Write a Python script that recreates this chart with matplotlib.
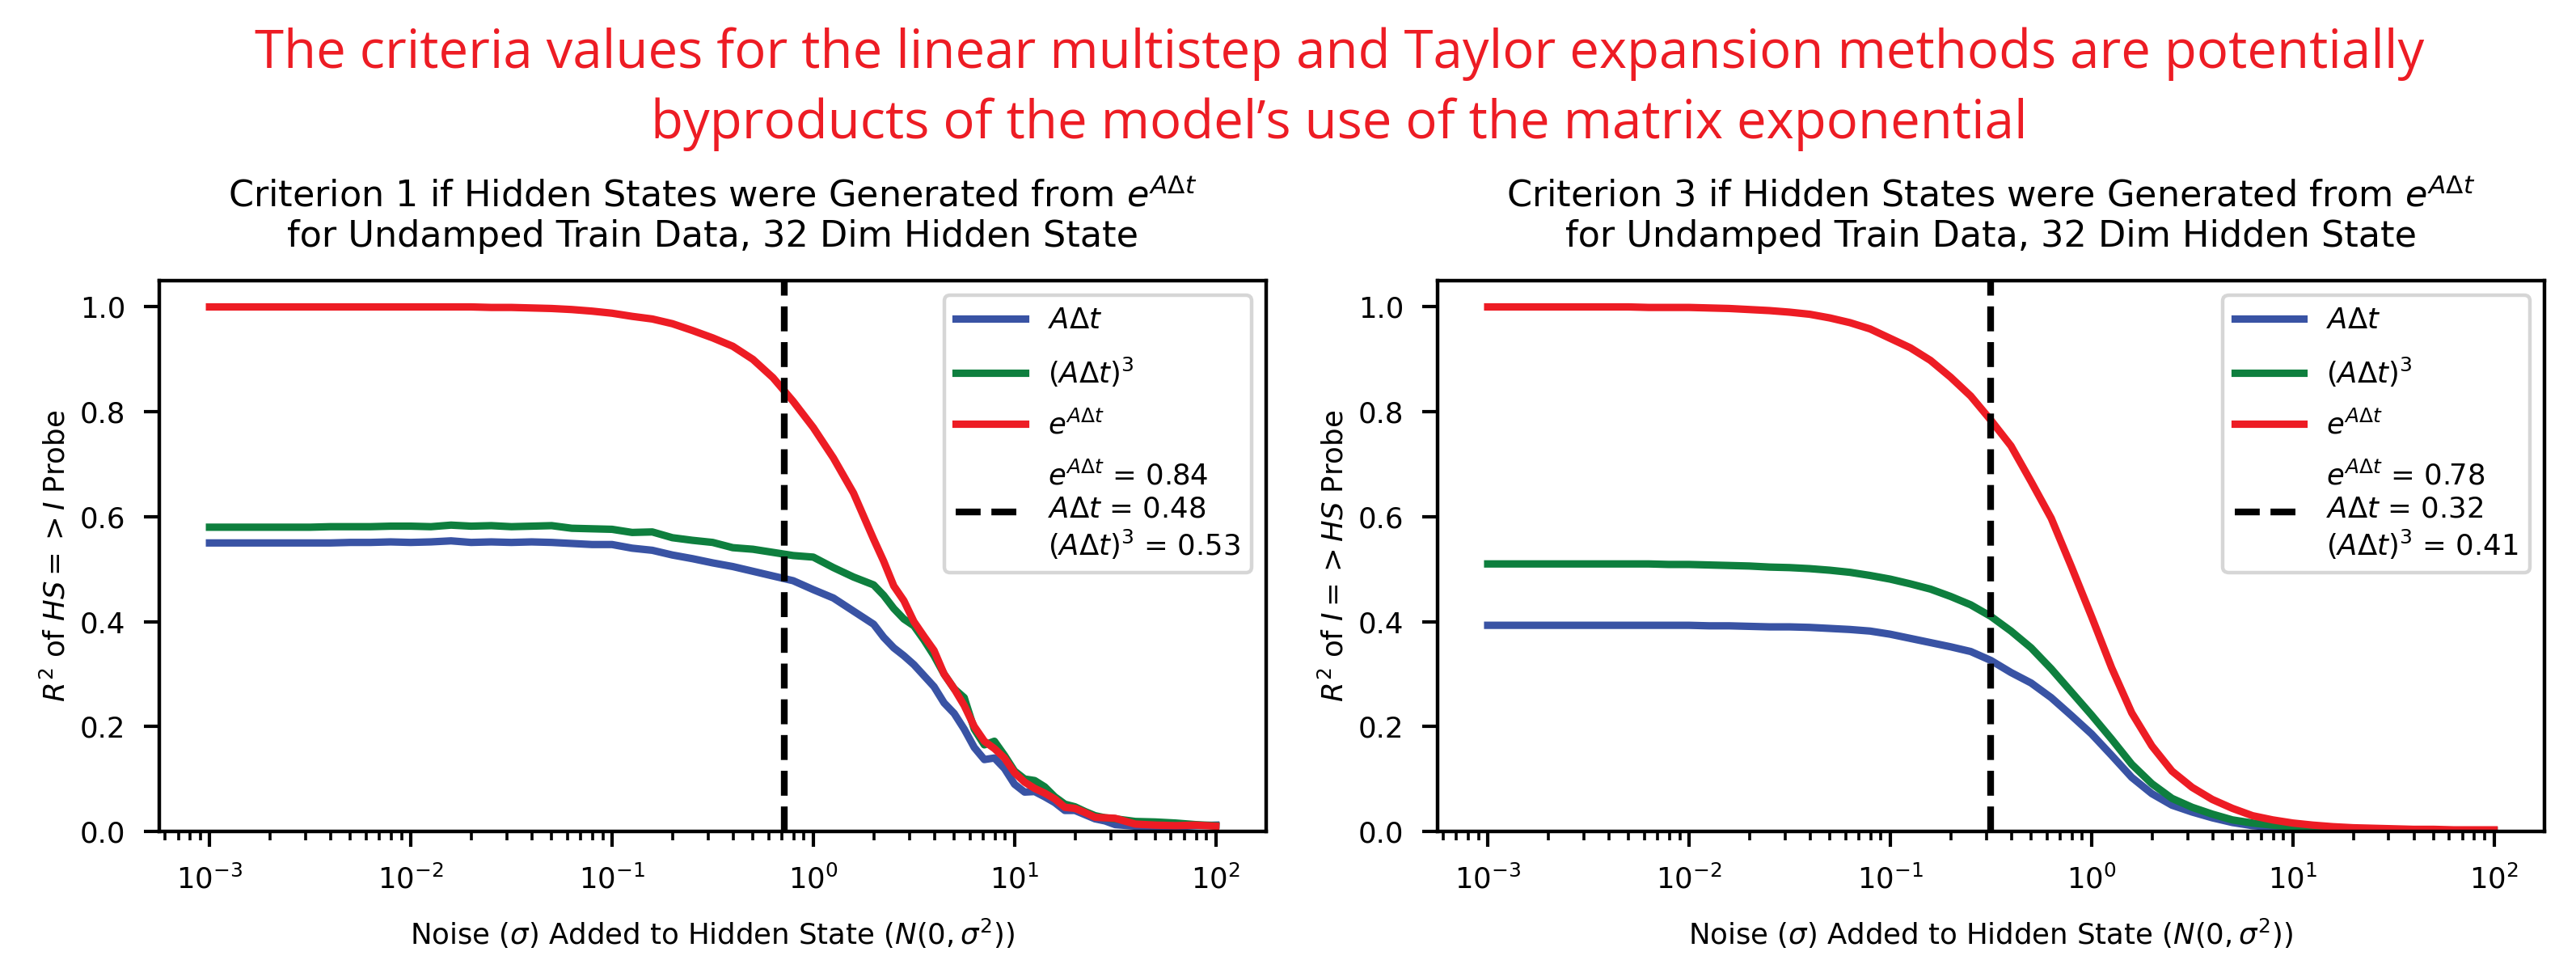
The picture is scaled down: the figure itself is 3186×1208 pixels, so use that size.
import numpy as np
import matplotlib
matplotlib.use("Agg")
import matplotlib.pyplot as plt

# log10 of noise sigma
logsig_left = [-3.0, -2.9, -2.8, -2.7, -2.6, -2.5, -2.4, -2.3, -2.2, -2.1,
               -2.0, -1.9, -1.8, -1.7, -1.6, -1.5, -1.4, -1.3, -1.2, -1.1,
               -1.0, -0.9, -0.8, -0.7, -0.6, -0.5, -0.4, -0.3, -0.2, -0.1,
               0.0, 0.1, 0.2, 0.3, 0.35, 0.4, 0.45, 0.5, 0.55, 0.6,
               0.65, 0.7, 0.75, 0.8, 0.85, 0.9, 0.95, 1.0, 1.05, 1.1,
               1.15, 1.2, 1.25, 1.3, 1.35, 1.4, 1.45, 1.5, 1.6, 1.7,
               1.8, 1.9, 2.0]
# criterion 1 (HS => I probe)
c1_exp = [1.000, 1.000, 1.000, 1.000, 1.000, 1.000, 1.000, 1.000, 1.000, 1.000,
          1.000, 1.000, 1.000, 1.000, 0.999, 0.999, 0.998, 0.997, 0.995, 0.992,
          0.988, 0.982, 0.977, 0.968, 0.955, 0.941, 0.925, 0.900, 0.865, 0.820,
          0.770, 0.712, 0.645, 0.557, 0.515, 0.468, 0.440, 0.400, 0.372, 0.345,
          0.300, 0.272, 0.240, 0.200, 0.172, 0.158, 0.140, 0.112, 0.094, 0.082,
          0.073, 0.062, 0.046, 0.044, 0.036, 0.027, 0.026, 0.025, 0.014, 0.012,
          0.011, 0.012, 0.010]
c1_cube = [0.580, 0.580, 0.580, 0.580, 0.580, 0.580, 0.581, 0.581, 0.581, 0.582,
           0.582, 0.581, 0.584, 0.582, 0.583, 0.581, 0.582, 0.583, 0.578, 0.577,
           0.576, 0.570, 0.571, 0.560, 0.555, 0.551, 0.541, 0.538, 0.532, 0.526,
           0.523, 0.503, 0.485, 0.470, 0.450, 0.425, 0.405, 0.392, 0.365, 0.335,
           0.300, 0.272, 0.255, 0.195, 0.165, 0.172, 0.145, 0.115, 0.100, 0.097,
           0.085, 0.066, 0.052, 0.047, 0.038, 0.030, 0.026, 0.024, 0.019, 0.018,
           0.016, 0.013, 0.011]
c1_lin = [0.550, 0.550, 0.550, 0.550, 0.550, 0.550, 0.550, 0.551, 0.551, 0.552,
          0.551, 0.552, 0.554, 0.551, 0.552, 0.551, 0.552, 0.551, 0.549, 0.547,
          0.547, 0.540, 0.536, 0.527, 0.520, 0.512, 0.505, 0.496, 0.487, 0.478,
          0.461, 0.445, 0.420, 0.395, 0.370, 0.350, 0.335, 0.318, 0.297, 0.276,
          0.245, 0.225, 0.195, 0.160, 0.137, 0.140, 0.120, 0.090, 0.075, 0.076,
          0.066, 0.055, 0.040, 0.040, 0.032, 0.024, 0.020, 0.013, 0.010, 0.010,
          0.009, 0.011, 0.012]

logsig_right = [-3.0, -2.9, -2.8, -2.7, -2.6, -2.5, -2.4, -2.3, -2.2, -2.1,
                -2.0, -1.9, -1.8, -1.7, -1.6, -1.5, -1.4, -1.3, -1.2, -1.1,
                -1.0, -0.9, -0.8, -0.7, -0.6, -0.5, -0.4, -0.3, -0.2, -0.1,
                0.0, 0.1, 0.2, 0.3, 0.4, 0.5, 0.6, 0.7, 0.8, 0.9,
                1.0, 1.1, 1.2, 1.3, 1.4, 1.5, 1.6, 1.7, 1.8, 1.9, 2.0]
# criterion 3 (I => HS probe)
c3_exp = [1.000, 1.000, 1.000, 1.000, 1.000, 1.000, 1.000, 1.000, 0.999, 0.999,
          0.999, 0.998, 0.997, 0.995, 0.993, 0.990, 0.986, 0.979, 0.970, 0.958,
          0.940, 0.922, 0.898, 0.866, 0.830, 0.784, 0.735, 0.667, 0.597, 0.505,
          0.410, 0.312, 0.226, 0.163, 0.115, 0.084, 0.061, 0.044, 0.030, 0.022,
          0.016, 0.012, 0.009, 0.007, 0.006, 0.005, 0.004, 0.004, 0.003, 0.003, 0.003]
c3_cube = [0.510, 0.510, 0.510, 0.510, 0.510, 0.510, 0.510, 0.510, 0.510, 0.509,
           0.509, 0.508, 0.507, 0.506, 0.504, 0.503, 0.501, 0.498, 0.494, 0.488,
           0.481, 0.472, 0.462, 0.448, 0.432, 0.410, 0.382, 0.350, 0.310, 0.266,
           0.222, 0.176, 0.128, 0.091, 0.063, 0.046, 0.033, 0.022, 0.016, 0.012,
           0.009, 0.006, 0.005, 0.004, 0.003, 0.003, 0.002, 0.002, 0.002, 0.002, 0.002]
c3_lin = [0.393, 0.393, 0.393, 0.393, 0.393, 0.393, 0.393, 0.393, 0.393, 0.393,
          0.393, 0.392, 0.392, 0.391, 0.390, 0.390, 0.389, 0.387, 0.385, 0.382,
          0.376, 0.368, 0.360, 0.352, 0.343, 0.326, 0.303, 0.283, 0.255, 0.221,
          0.186, 0.145, 0.103, 0.072, 0.050, 0.037, 0.026, 0.017, 0.011, 0.008,
          0.006, 0.004, 0.003, 0.003, 0.002, 0.002, 0.002, 0.002, 0.002, 0.002, 0.002]

crit_sigma = [0.72, 0.316]
leg_vals = [(0.84, 0.48, 0.53), (0.78, 0.32, 0.41)]
crit_num = [1, 3]
ylabels = [r"$R^2$ of $HS => I$ Probe", r"$R^2$ of $I => HS$ Probe"]

BLUE = "#3953A4"
GREEN = "#0E7F3E"
RED = "#ED1C24"

plt.rcParams['font.family'] = ['DejaVu Sans']
fig = plt.figure(figsize=(15.93, 6.04), dpi=200)

fig.text(0.52, 0.909,
         "The criteria values for the linear multistep and Taylor expansion methods are potentially\n"
         "byproducts of the model\u2019s use of the matrix exponential",
         ha='center', va='center', color=RED, fontsize=23.5, family='Open Sans',
         linespacing=1.4)

panels = [
    (logsig_left, c1_lin, c1_cube, c1_exp),
    (logsig_right, c3_lin, c3_cube, c3_exp),
]
lefts = [0.0618, 0.5580]

for i in range(2):
    ax = fig.add_axes([lefts[i], 0.149, 0.4297, 0.5637])
    lg, lin, cube, ex = panels[i]
    sig = 10.0 ** np.array(lg)
    ax.plot(sig, lin, color=BLUE, lw=3.3, label=r"$A\Delta t$")
    ax.plot(sig, cube, color=GREEN, lw=3.3, label=r"$(A\Delta t)^3$")
    ax.plot(sig, ex, color=RED, lw=3.3, label=r"$e^{A\Delta t}$")
    v = leg_vals[i]
    lab = (r"$e^{A\Delta t}$ = %.2f" % v[0] + "\n" +
           r"$A\Delta t$ = %.2f" % v[1] + "\n" +
           r"$(A\Delta t)^3$ = %.2f" % v[2])
    ax.axvline(crit_sigma[i], color='black', ls='--', lw=3, label=lab)
    ax.set_xscale('log')
    ax.set_ylim(0, 1.05)
    ax.set_xlim(10 ** -3.25, 10 ** 2.25)
    ax.set_yticks([0.0, 0.2, 0.4, 0.6, 0.8, 1.0])
    ax.tick_params(which='major', length=7, width=1.5, labelsize=12.8, pad=8)
    ax.tick_params(which='minor', length=3.8, width=1.3)
    for s in ax.spines.values():
        s.set_linewidth(1.6)
    ax.set_xlabel(r"Noise ($\sigma$) Added to Hidden State ($N(0, \sigma^2)$)",
                  fontsize=12.8, labelpad=10)
    ax.set_ylabel(ylabels[i], fontsize=12.8, labelpad=4)
    ax.set_title("Criterion %d if Hidden States were Generated from $e^{A\\Delta t}$\n"
                 "for Undamped Train Data, 32 Dim Hidden State" % crit_num[i],
                 fontsize=16, pad=15)
    leg = ax.legend(loc='upper right', fontsize=12.8, handlelength=2.4,
                    labelspacing=0.75)
    leg.get_frame().set_linewidth(1.6)

fig.savefig("out.png", dpi=200)
